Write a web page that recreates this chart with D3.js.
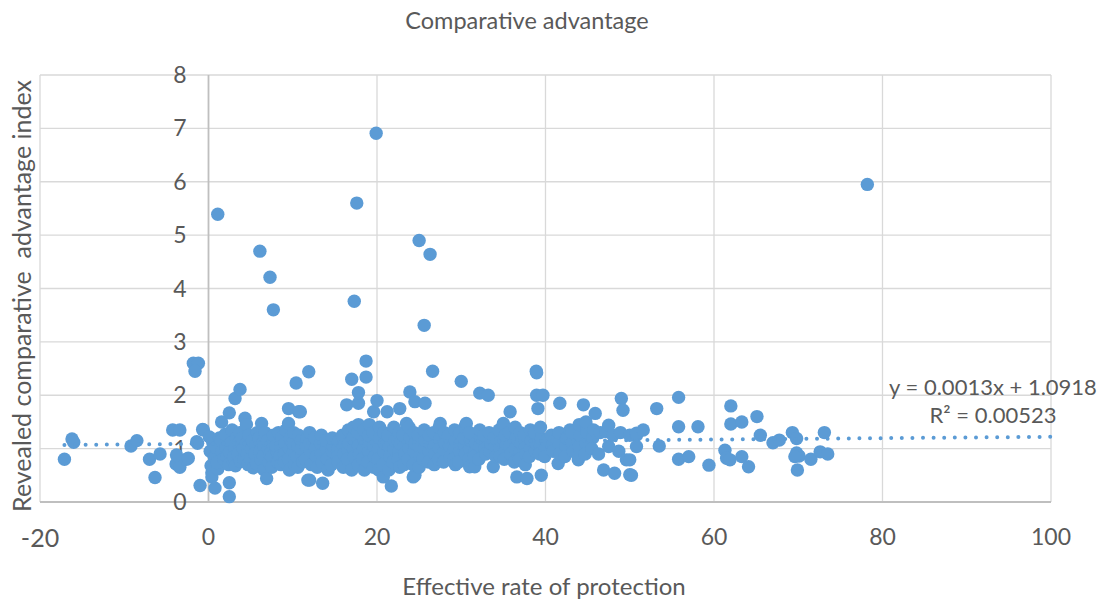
<!DOCTYPE html>
<html>
<head>
<meta charset="utf-8">
<script src="https://cdn.jsdelivr.net/npm/d3@7"></script>
<style>
  body { margin: 0; background: #fff; }
  svg text { font-family: Lato, "Open Sans", sans-serif; fill: #595959; }
</style>
</head>
<body>
<svg id="chart" width="1105" height="606"></svg>
<script>
// Effective rate of protection (x) vs revealed comparative advantage index (y)
const negativos = [
  [-17.1,0.80],[-16.2,1.18],[-16.0,1.12],[-9.2,1.05],[-8.5,1.15],[-7.0,0.80],[-6.35,0.46],
  [-5.75,0.90],[-4.25,1.35],[-3.4,1.35],[-3.85,0.71],[-3.4,0.65],[-2.6,0.80],[-3.8,0.88],
  [-0.7,1.36],[-1.3,1.10],[-1.0,0.31],[-0.6,1.35],[-1.4,1.13],[-2.4,0.82],
  [-1.8,2.60],[-1.2,2.60],[-1.6,2.45]
];

const nucleo = [
  [0.2,0.95],[0.5,1.12],[0.1,1.22],[0.4,0.55],[0.3,0.68],[0.7,0.84],[0.9,1.02],[0.4,0.47],[0.77,0.26],[1.1,0.62],[1.0,0.74],[1.3,1.2],
  [1.6,0.95],[1.5,1.15],[1.8,0.8],[1.56,1.50],[2.1,1.02],[2.2,0.86],[2.0,1.27],[2.4,0.7],[2.6,1.1],[2.5,0.93],[2.47,0.36],[2.47,0.10],
  [2.47,1.67],[2.9,0.78],[2.8,1.35],[3.1,1.0],[3.0,0.84],[3.15,1.94],[3.3,1.2],[3.2,0.68],
  [3.6,1.1],[3.5,0.9],[3.74,2.11],[3.7,1.3],[3.8,0.76],[4.1,1.0],[4.0,1.2],[4.2,0.8],[4.33,1.57],[4.5,1.45],[4.6,0.9],[4.5,1.1],
  [4.7,0.7],[4.8,1.25],[5.1,1.0],[5.0,0.8],[5.2,1.15],[5.3,0.64],
  [5.6,1.05],[5.5,0.9],[5.8,1.3],[5.7,0.72],[6.1,0.95],[6.0,1.2],[6.2,0.8],[6.3,1.47],[6.4,1.1],[6.6,1.05],[6.5,0.86],[6.7,1.3],
  [6.6,0.6],[6.9,0.44],[7.1,1.0],[7.0,1.15],[7.2,0.75],[7.3,0.9],[7.6,1.1],[7.5,0.85],[7.7,1.25],[7.5,0.65],
  [8.1,0.95],[8.0,1.05],[8.2,0.75],[8.3,1.3],[8.6,1.0],[8.5,0.86],[8.7,1.2],[8.6,0.7],[9.1,1.1],[9.0,0.9],[9.2,1.35],[9.0,0.75],
  [9.5,1.75],[9.5,1.47],[9.6,1.0],[9.5,0.8],[9.7,1.2],[9.6,0.6],[10.1,0.95],[10.0,1.1],[10.2,0.7],[10.1,1.3],
  [10.4,2.23],[10.7,1.69],[10.6,1.05],[10.5,0.85],[10.7,1.25],[10.6,0.65],[10.9,1.69],[11.1,0.9],[11.0,1.15],[11.2,0.75],[11.0,1.0],
  [11.6,1.05],[11.5,0.8],[11.7,1.2],[11.8,0.41],[12.1,0.95],[12.0,1.1],[12.2,0.7],[12.0,1.3],[12.0,0.41],[11.9,2.44],
  [12.7,1.0],[12.8,0.85],[12.6,1.2],[12.9,0.65],[13.4,0.9],[13.3,1.1],[13.55,0.35],[13.5,0.75],[13.4,1.25],[14.0,1.0],[14.1,0.8],
  [13.9,1.15],[14.2,0.6],[14.7,0.95],[14.8,1.05],[14.6,0.7],[14.7,1.2],[15.4,1.0],[15.3,0.85],[15.5,1.15],[15.4,0.75],[16.0,1.05],
  [16.1,0.9],[15.9,1.25],[16.0,0.65],[16.4,1.82],
  [16.6,0.95],[16.7,1.1],[16.5,0.8],[16.6,1.35],[17.2,1.0],[17.1,1.2],[17.3,0.85],[17.2,1.4],[17.0,0.6],[17.8,1.05],[17.9,0.9],
  [17.7,1.3],[17.8,0.7],[17.8,1.45],[17.8,1.85],[17.8,2.05],[18.4,1.0],[18.5,1.15],[18.3,0.8],[18.4,1.35],[18.5,0.6],[19.0,0.95],
  [19.1,1.1],[18.9,0.75],[19.0,1.25],[19.1,1.45],[19.6,1.69],[19.6,1.05],[19.7,0.85],[19.5,1.3],[19.6,0.65],[20.0,1.90],
  [20.2,1.0],[20.3,1.2],[20.1,0.8],[20.2,0.6],[20.3,1.4],[20.75,0.47],[20.8,0.95],[20.9,1.1],[20.7,0.7],[20.8,1.3],[21.2,1.69],
  [21.4,1.05],[21.5,0.85],[21.3,1.25],[21.4,0.6],[21.7,0.30],[22.0,1.0],[22.1,1.15],[21.9,0.75],[22.0,1.4],[22.6,0.95],[22.7,1.1],
  [22.5,0.8],[22.6,1.3],[22.7,0.65],[22.7,1.75],[23.2,1.05],[23.3,0.9],[23.1,1.25],[23.2,0.7],[23.5,1.47],[23.9,2.06],[23.8,1.0],
  [23.9,1.2],[23.7,0.8],[23.8,1.4],
  [24.3,0.47],[24.5,0.5],[24.4,0.95],[24.5,1.1],[24.3,0.7],[24.4,1.3],[24.5,1.88],[25.7,1.85],[25.0,1.05],[25.1,0.85],[24.9,1.25],
  [25.0,0.65],[25.6,1.0],[25.7,1.15],[25.5,0.8],[25.6,1.35],[26.2,0.95],[26.3,1.1],[26.1,0.75],[26.2,1.25],[26.8,1.05],[26.9,0.9],
  [26.7,1.3],[26.8,0.7],[27.5,1.47],[27.4,1.0],[27.5,1.2],[27.3,0.8],[27.4,1.4],[28.0,0.95],[28.1,1.1],[27.9,0.75],[28.0,1.3],
  [28.6,1.05],[28.7,0.85],[28.5,1.25],[29.2,1.0],[29.3,1.15],[29.1,0.8],[29.2,1.35],[29.3,0.7],[29.8,0.95],[29.9,1.1],[29.7,0.75],
  [29.8,1.3],[30.4,1.05],[30.5,0.9],[30.3,1.2],[30.4,1.4],[30.6,1.47],[31.0,1.0],[31.1,1.15],[30.9,0.8],[31.0,1.3],[31.0,0.66],
  [31.6,0.66],[31.6,0.95],[31.7,1.1],[31.5,0.85],[32.2,1.05],[32.3,1.2],[32.1,0.8],[32.2,1.35],
  [32.8,1.0],[32.9,0.9],[32.7,1.25],[33.4,0.95],[33.5,1.1],[33.3,1.3],[33.8,0.66],[34.0,1.05],[34.1,0.85],[33.9,1.2],[34.6,1.0],
  [34.7,1.15],[34.5,1.35],[34.6,0.85],[35.0,1.47],[35.2,0.95],[35.3,1.1],[35.1,0.8],[35.2,1.25],[35.8,1.69],[35.8,1.05],[35.9,0.9],
  [35.7,1.3],
  [36.4,1.0],[36.5,1.2],[36.3,0.75],[36.4,1.4],[36.6,0.47],[37.0,0.95],[37.1,1.1],[36.9,0.8],[37.0,1.3],[37.6,1.05],[37.7,0.9],
  [37.5,1.25],[37.6,0.7],[37.8,0.44],[38.2,1.0],[38.3,1.15],[38.1,0.85],[38.2,1.35],[38.8,0.95],[38.9,1.1],[38.7,1.3],[39.1,1.75],
  [39.4,1.05],[39.5,1.2],[39.3,0.9],[39.4,1.4],[39.5,0.5],[38.95,2.42],[38.95,2.0],[39.7,2.0],
  [40.0,1.0],[40.1,1.15],[39.9,0.85],[40.8,1.05],[40.9,0.95],[40.7,1.25],[41.5,1.22],[41.5,0.72],[41.6,1.1],[41.7,0.9],[41.6,1.3],
  [41.7,1.85],[42.4,1.05],[42.5,1.2],[42.3,0.85],[42.9,1.35],[43.2,1.1],[43.3,0.95],[43.1,1.3],[43.9,0.79],[44.0,1.05],[44.1,1.25],
  [43.9,0.85],[44.0,1.45],[44.5,1.82],[44.9,1.41],[44.8,1.1],[44.9,1.3],[44.7,0.9],[44.8,1.5],
  [45.6,1.2],[45.7,1.35],[45.5,1.0],[45.9,1.66],[46.5,1.3],[46.3,0.9],[46.9,0.60],[47.2,1.32],[47.5,1.44],
  [47.5,1.04],[48.2,0.54],[48.0,1.25],[48.9,1.3],[48.7,0.95],[49.0,1.94],[49.2,1.72],
  [49.6,0.79],[50.0,1.25],[50.0,0.51],[50.0,0.79],[50.2,0.5],[50.8,1.25],[50.8,1.29],[50.8,1.04],[51.6,1.35]
];

const direita = [
  [53.2,1.75],[53.5,1.05],[55.8,1.96],[55.8,1.41],[58.1,1.41],[55.8,0.80],[57.0,0.85],[59.4,0.69],[62.0,1.80],[62.0,1.46],
  [63.3,1.50],[61.3,0.97],[61.5,0.82],[61.9,0.79],[63.3,0.85],[64.1,0.66],[65.1,1.60],[65.5,1.25],[67.0,1.11],[67.75,1.16],
  [69.3,1.30],[69.8,1.19],[69.8,0.92],[70.1,0.86],[69.6,0.85],[69.9,0.60],[71.5,0.80],[72.6,0.94],[73.1,1.30],[73.5,0.90]
];

const extremos = [
  [1.1,5.39],[6.1,4.70],[7.3,4.21],[7.7,3.60],[19.9,6.91],[17.6,5.6],[17.3,3.76],[25.0,4.9],[26.3,4.64],[25.6,3.31],
  [18.7,2.64],[17.0,2.3],[18.7,2.34],[26.6,2.45],[30.0,2.26],[32.2,2.04],[33.2,2.0],[38.9,2.45],[78.2,5.95]
];

const ticksX = [-20, 0, 20, 40, 60, 80, 100];
const ticksY = [0, 1, 2, 3, 4, 5, 6, 7, 8];

// linha de tendência linear (Excel)
const inclinacao = 0.0013;
const intercepto = 1.0918;
const textoEquacao = "y = 0.0013x + 1.0918";
const textoR2 = "R² = 0.00523";

const pontos = negativos.concat(nucleo, direita, extremos);

const svg = d3.select("#chart");
const area = { left: 40, right: 1051, top: 75, bottom: 502 };

const x = d3.scaleLinear().domain([-20, 100]).range([area.left, area.right]);
const y = d3.scaleLinear().domain([0, 8]).range([area.bottom, area.top]);

// grade
svg.append("g").selectAll("line")
  .data(ticksY)
  .enter().append("line")
  .attr("x1", area.left).attr("x2", area.right)
  .attr("y1", d => y(d)).attr("y2", d => y(d))
  .attr("stroke", "#d9d9d9").attr("stroke-width", 1.3);

svg.append("g").selectAll("line")
  .data(ticksX.filter(d => d !== 0))
  .enter().append("line")
  .attr("x1", d => x(d)).attr("x2", d => x(d))
  .attr("y1", area.top).attr("y2", area.bottom)
  .attr("stroke", "#d9d9d9").attr("stroke-width", 1.3);

// eixos
svg.append("line")
  .attr("x1", x(0)).attr("x2", x(0))
  .attr("y1", area.top).attr("y2", area.bottom)
  .attr("stroke", "#bfbfbf").attr("stroke-width", 1.8);
svg.append("line")
  .attr("x1", area.left).attr("x2", area.right)
  .attr("y1", y(0)).attr("y2", y(0))
  .attr("stroke", "#bfbfbf").attr("stroke-width", 1.8);

// rótulos dos ticks
svg.append("g").selectAll("text")
  .data(ticksY)
  .enter().append("text")
  .attr("x", x(0) - 22)
  .attr("y", d => y(d) + 8)
  .attr("text-anchor", "end")
  .style("font-size", "23px")
  .text(d => d);

svg.append("g").selectAll("text")
  .data(ticksX)
  .enter().append("text")
  .attr("x", d => x(d))
  .attr("y", d => d === -20 ? 547 : 545)
  .attr("text-anchor", "middle")
  .style("font-size", d => d === -20 ? "25px" : "23px")
  .text(d => d);

// pontos
svg.append("g").selectAll("circle")
  .data(pontos)
  .enter().append("circle")
  .attr("cx", d => x(d[0]))
  .attr("cy", d => y(d[1]))
  .attr("r", 6.7)
  .attr("fill", "#5b9bd5");

// tendência
const xMin = d3.min(pontos, d => d[0]);
svg.append("line")
  .attr("x1", x(xMin)).attr("x2", x(100))
  .attr("y1", y(intercepto + inclinacao * xMin))
  .attr("y2", y(intercepto + inclinacao * 100))
  .attr("stroke", "#5b9bd5")
  .attr("stroke-width", 4)
  .attr("stroke-linecap", "round")
  .attr("stroke-dasharray", "0 10.6");

svg.append("text")
  .attr("x", 993).attr("y", 395)
  .attr("text-anchor", "middle")
  .style("font-size", "22px")
  .text(textoEquacao);
svg.append("text")
  .attr("x", 993).attr("y", 423)
  .attr("text-anchor", "middle")
  .style("font-size", "22px")
  .text(textoR2);

// títulos
svg.append("text")
  .attr("x", 527).attr("y", 29)
  .attr("text-anchor", "middle")
  .style("font-size", "23.5px")
  .text("Comparative advantage");

svg.append("text")
  .attr("x", 544).attr("y", 595)
  .attr("text-anchor", "middle")
  .style("font-size", "24px")
  .text("Effective rate of protection");

svg.append("text")
  .attr("transform", "translate(31,296) rotate(-90)")
  .attr("text-anchor", "middle")
  .style("font-size", "25px")
  .style("white-space", "pre")
  .text("Revealed comparative  advantage index");
</script>
</body>
</html>
